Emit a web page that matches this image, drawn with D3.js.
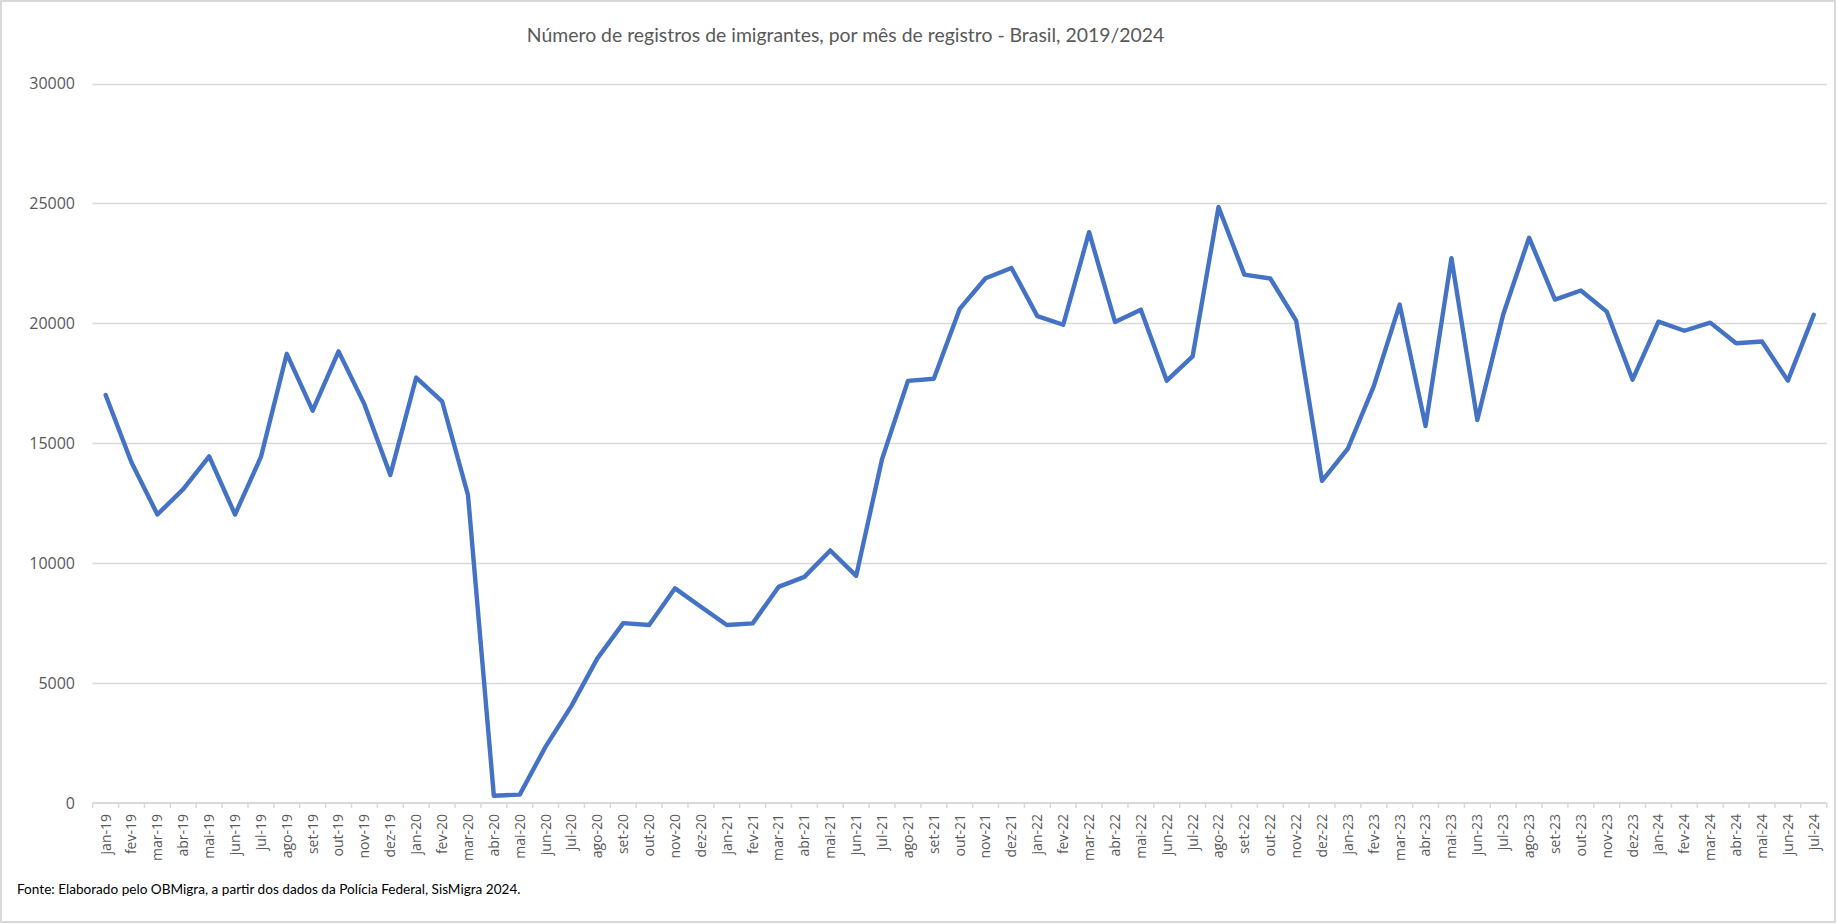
<!DOCTYPE html>
<html>
<head>
<meta charset="utf-8">
<script src="https://cdn.jsdelivr.net/npm/d3@7"></script>
<style>
  html, body { margin: 0; padding: 0; background: #fff; }
  svg { display: block; }
</style>
</head>
<body>
<svg id="chart" width="1838" height="924"></svg>
<script>
const titleText = "Número de registros de imigrantes, por mês de registro - Brasil, 2019/2024";
const sourceText = "Fonte: Elaborado pelo OBMigra, a partir dos dados da Polícia Federal, SisMigra 2024.";

const months = [
  "jan-19","fev-19","mar-19","abr-19","mai-19","jun-19","jul-19","ago-19","set-19","out-19","nov-19","dez-19",
  "jan-20","fev-20","mar-20","abr-20","mai-20","jun-20","jul-20","ago-20","set-20","out-20","nov-20","dez-20",
  "jan-21","fev-21","mar-21","abr-21","mai-21","jun-21","jul-21","ago-21","set-21","out-21","nov-21","dez-21",
  "jan-22","fev-22","mar-22","abr-22","mai-22","jun-22","jul-22","ago-22","set-22","out-22","nov-22","dez-22",
  "jan-23","fev-23","mar-23","abr-23","mai-23","jun-23","jul-23","ago-23","set-23","out-23","nov-23","dez-23",
  "jan-24","fev-24","mar-24","abr-24","mai-24","jun-24","jul-24"
];

const registros = [
  17010, 14200, 12030, 13090, 14450, 12030, 14430, 18730, 16360, 18830, 16620, 13680,
  17740, 16750, 12850, 300, 350, 2350, 4050, 6030, 7500, 7420, 8950, 8180,
  7420, 7490, 9010, 9430, 10530, 9470, 14340, 17600, 17690, 20600, 21880, 22310,
  20300, 19940, 23800, 20060, 20570, 17610, 18620, 24850, 22030, 21870, 20110, 13430,
  14780, 17380, 20780, 15720, 22720, 15970, 20370, 23570, 20990, 21370, 20490, 17650,
  20070, 19690, 20030, 19170, 19240, 17610, 20360
];

const yTicks = [0, 5000, 10000, 15000, 20000, 25000, 30000];

const W = 1838, H = 924;
const mLeft = 92.7, mRight = 1826.7, mTop = 83.5, mBottom = 803;

const svg = d3.select("#chart");

// outer frame
svg.append("rect")
  .attr("x", 1).attr("y", 1).attr("width", W - 4).attr("height", H - 3)
  .attr("fill", "none").attr("stroke", "#d9d9d9").attr("stroke-width", 2);

const x = d3.scaleBand().domain(months).range([mLeft, mRight]).paddingInner(0).paddingOuter(0);
const y = d3.scaleLinear().domain([0, 30000]).range([mBottom, mTop]);

// gridlines
svg.append("g")
  .selectAll("line")
  .data(yTicks.filter(d => d !== 0))
  .join("line")
  .attr("x1", mLeft).attr("x2", mRight)
  .attr("y1", d => Math.round(y(d)) + 0.5).attr("y2", d => Math.round(y(d)) + 0.5)
  .attr("stroke", "#d9d9d9").attr("stroke-width", 1.3);

// y axis labels
const yAxis = d3.axisLeft(y).tickValues(yTicks).tickSize(0).tickPadding(0).tickFormat(d3.format("d"));
const gy = svg.append("g").attr("transform", `translate(75,0)`).call(yAxis);
gy.select(".domain").remove();
gy.selectAll("text")
  .attr("font-family", "'Open Sans', sans-serif")
  .attr("font-size", 16)
  .attr("fill", "#595959");

// x axis
const xAxis = d3.axisBottom(x).tickSize(0).tickPadding(0);
const gx = svg.append("g").attr("transform", `translate(0,${mBottom})`).call(xAxis);
gx.select(".domain").attr("stroke", "#d9d9d9").attr("stroke-width", 2).attr("d", `M${mLeft},0H${mRight}`);
gx.selectAll(".tick line").remove();
const boundaries = months.map(m => x(m)).concat([mRight]);
gx.append("g").selectAll("line")
  .data(boundaries)
  .join("line")
  .attr("x1", d => d).attr("x2", d => d)
  .attr("y1", 0).attr("y2", 5)
  .attr("stroke", "#d9d9d9").attr("stroke-width", 1.5);

gx.selectAll(".tick text")
  .attr("font-family", "'Open Sans', sans-serif")
  .attr("font-size", 14)
  .attr("fill", "#595959")
  .attr("text-anchor", "end")
  .attr("dy", "0.35em")
  .attr("y", 0)
  .attr("transform", "translate(0,11) rotate(-90)");

// line
const line = d3.line()
  .x((d, i) => x(months[i]) + x.bandwidth() / 2)
  .y(d => y(d));

svg.append("path")
  .datum(registros)
  .attr("d", line)
  .attr("fill", "none")
  .attr("stroke", "#4472C4")
  .attr("stroke-width", 4.4)
  .attr("stroke-linejoin", "round")
  .attr("stroke-linecap", "round");

// title
svg.append("text")
  .attr("x", 845.5).attr("y", 42)
  .attr("text-anchor", "middle")
  .attr("font-family", "Lato, sans-serif")
  .attr("font-size", 19.4)
  .attr("fill", "#595959")
  .text(titleText);

// source
svg.append("text")
  .attr("x", 17).attr("y", 894)
  .attr("font-family", "Lato, sans-serif")
  .attr("font-size", 13.6)
  .attr("fill", "#000")
  .text(sourceText);
</script>
</body>
</html>
